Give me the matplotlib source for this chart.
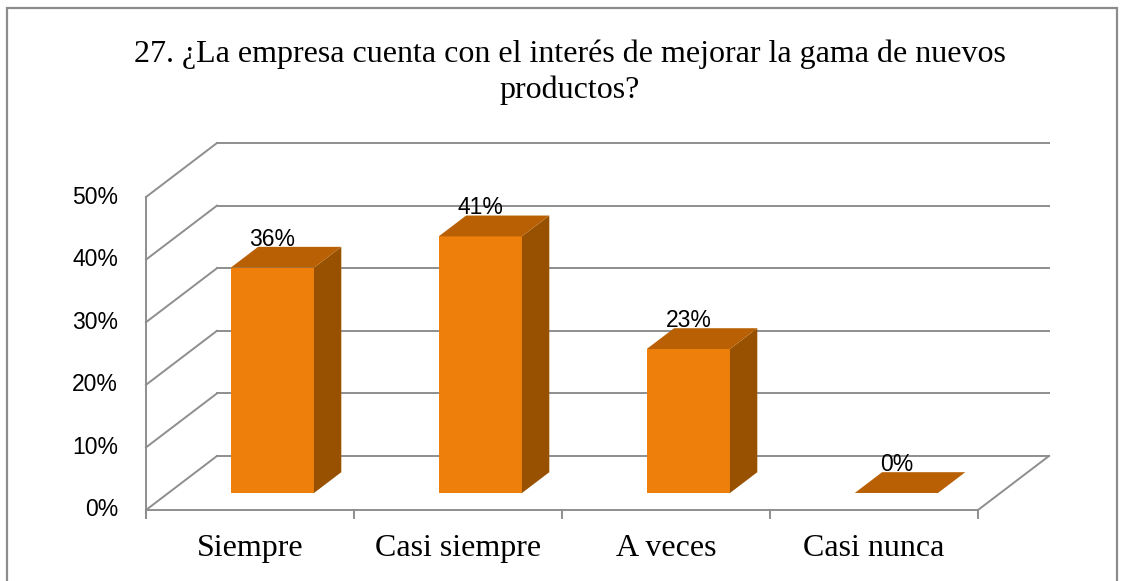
import matplotlib
matplotlib.use("Agg")
import matplotlib.pyplot as plt
from matplotlib.patches import Polygon, Rectangle
from matplotlib.lines import Line2D

# ---- data ----
categories = ["Siempre", "Casi siempre", "A veces", "Casi nunca"]
values = [0.36, 0.41, 0.23, 0.0]
value_labels = ["36%", "41%", "23%", "0%"]
yticks = [0.0, 0.1, 0.2, 0.3, 0.4, 0.5]
ytick_labels = ["0%", "10%", "20%", "30%", "40%", "50%"]
title_lines = ["27. ¿La empresa cuenta con el interés de mejorar la gama de nuevos",
               "productos?"]

# ---- style ----
W, H = 1126, 581
DPI = 100
DX = 71 / 208.0      # depth shift in category units
DY = 0.0863          # depth shift in value units
F0, F1 = 0.315, 0.70  # bar depth range (fraction of depth)
BW = 0.40            # bar width in category units
C_FRONT = "#EE7F0A"
C_TOP = "#B96005"
C_SIDE = "#985100"
GRID = "#8E8E8E"
GLW = 1.4
SANS = ["Liberation Sans", "DejaVu Sans"]

fig = plt.figure(figsize=(W / DPI, H / DPI), dpi=DPI)
fig.patch.set_facecolor("white")
fig.patches.append(Rectangle((7 / W, -0.05), 1110 / W, (H - 8) / H + 0.05,
                             transform=fig.transFigure, fill=False,
                             edgecolor="#8C8C8C", lw=1.6))

n = len(categories)
ax = fig.add_axes([146 / W, 71 / H, 903 / W, 367 / H])
ax.set_xlim(0, n + DX)
ax.set_ylim(0, 0.5 + DY)
ax.axis("off")


def P(x, y, f):
    return (x + f * DX, y + f * DY)


ymax = yticks[-1]
# walls / gridlines
for v in yticks:
    ax.add_line(Line2D([0, DX], [v, v + DY], color=GRID, lw=GLW, zorder=1, clip_on=False))
    ax.add_line(Line2D([DX, n + DX], [v + DY, v + DY], color=GRID, lw=GLW, zorder=1, clip_on=False))
# front vertical axis
ax.add_line(Line2D([0, 0], [-0.013, ymax], color=GRID, lw=GLW, zorder=1, clip_on=False))
# floor front edge and right diagonal
ax.add_line(Line2D([0, n], [0, 0], color=GRID, lw=GLW, zorder=1, clip_on=False))
ax.add_line(Line2D([n, n + DX], [0, DY], color=GRID, lw=GLW, zorder=1, clip_on=False))
# category ticks
for k in range(n + 1):
    ax.add_line(Line2D([k, k], [0, -0.013], color=GRID, lw=GLW, zorder=1, clip_on=False))

# y tick labels
for v, lab in zip(yticks, ytick_labels):
    ax.text(-28 / 208.0, v, lab, ha="right", va="center",
            family=SANS, fontsize=16.5, color="black", clip_on=False)

# bars
for i, (v, lab) in enumerate(zip(values, value_labels)):
    x0 = i + (1 - BW) / 2
    x1 = x0 + BW
    front = [P(x0, 0, F0), P(x1, 0, F0), P(x1, v, F0), P(x0, v, F0)]
    side = [P(x1, 0, F0), P(x1, 0, F1), P(x1, v, F1), P(x1, v, F0)]
    top = [P(x0, v, F0), P(x1, v, F0), P(x1, v, F1), P(x0, v, F1)]
    if v > 0:
        ax.add_patch(Polygon(front, closed=True, facecolor=C_FRONT, edgecolor="none", zorder=3))
        ax.add_patch(Polygon(side, closed=True, facecolor=C_SIDE, edgecolor="none", zorder=3))
    ax.add_patch(Polygon(top, closed=True, facecolor=C_TOP, edgecolor="none", zorder=3))
    cx, _ = P(i + 0.5, v, F0)
    _, ty = P(i + 0.5, v, F1)
    ax.text(cx, ty + 0.002, lab, ha="center", va="baseline",
            family=SANS, fontsize=16.5, color="black", zorder=4, clip_on=False)

# category labels
for i, c in enumerate(categories):
    ax.text(i + 0.5, -0.074, c, ha="center", va="baseline",
            family="Liberation Serif", fontsize=23, color="black", clip_on=False)

# title (two centred lines)
for k, line in enumerate(title_lines):
    fig.text(570 / W, 1 - (62 + 36 * k) / H, line, ha="center", va="baseline",
             family="Liberation Serif", fontsize=23, color="black")

fig.savefig("out.png", dpi=DPI, facecolor="white")
